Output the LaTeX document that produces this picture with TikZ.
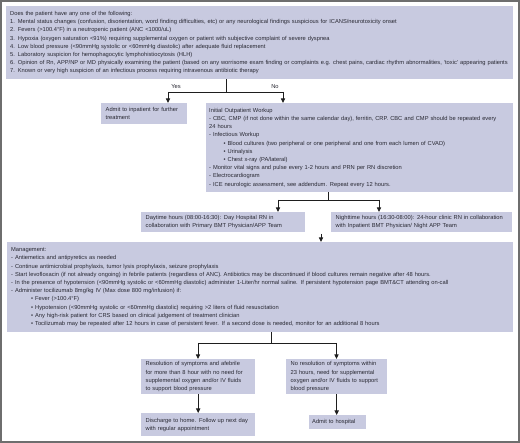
\documentclass[tikz,border=0pt]{standalone}
\usepackage{fontspec}
\setmainfont{Liberation Sans}
\usetikzlibrary{arrows.meta,calc}
\definecolor{boxc}{RGB}{200,202,224}
\definecolor{txtc}{RGB}{40,40,50}
\definecolor{linec}{RGB}{30,30,30}
\definecolor{framec}{RGB}{110,110,110}
\newcommand\ditem{\par\hangindent=4pt\hangafter=1 -\ }
\newcommand\bitem[1]{\par\hangindent=#1\hangafter=0 •\ }
\newcommand\nohyph{\hyphenpenalty=10000 \tolerance=9999 \relax}
\begin{document}
\begin{tikzpicture}[x=1pt,y=-1pt,
  box/.style={fill=boxc, draw=none, inner xsep=3pt, inner ysep=1pt, align=left, anchor=north west,
    font=\fontsize{5.75}{8.2}\selectfont, text=txtc, execute at begin node=\nohyph},
  lbl/.style={font=\fontsize{5.75}{7}\selectfont, text=txtc, inner sep=0pt},
  conn/.style={draw=linec, line width=0.9pt},
  arr/.style={conn, -{Triangle[width=4.2pt,length=4.5pt]}}]
\useasboundingbox (0,0) rectangle (520,443);
\draw[framec, line width=1.6pt] (1,1) rectangle (518.8,441.8);

\node[box, inner xsep=4pt, minimum width=507pt, minimum height=73pt, text width=499pt] (q) at (6,6) {%
Does the patient have any one of the following:\par
1. Mental status changes (confusion, disorientation, word finding difficulties, etc) or any neurological findings suspicious for ICANS/neurotoxicity onset\par
2. Fevers (>100.4°F) in a neutropenic patient (ANC <1000/uL)\par
3. Hypoxia (oxygen saturation <91\%) requiring supplemental oxygen or patient with subjective complaint of severe dyspnea\par
4. Low blood pressure (<90mmHg systolic or <60mmHg diastolic) after adequate fluid replacement\par
5. Laboratory suspicion for hemophagocytic lymphohistiocytosis (HLH)\par
6. Opinion of Rn, APP/NP or MD physically examining the patient (based on any worrisome exam finding or complaints e.g. chest pains, cardiac rhythm abnormalities, `toxic' appearing patients\par
7. Known or very high suspicion of an infectious process requiring intravenous antibiotic therapy\par};

\node[box, inner xsep=4.5pt, minimum width=86pt, minimum height=21pt, text width=77pt] (adm) at (101,103) {%
Admit to inpatient for further\\treatment\par};

\node[box, minimum width=307pt, minimum height=89pt, text width=301pt] (wk) at (206,103) {%
Initial Outpatient Workup
\ditem CBC, CMP (if not done within the same calendar day), ferritin, CRP. CBC and CMP should be repeated every\\24 hours
\ditem Infectious Workup
\bitem{14.5pt}Blood cultures (two peripheral or one peripheral and one from each lumen of CVAD)
\bitem{14.5pt}Urinalysis
\bitem{14.5pt}Chest x-ray (PA/lateral)
\ditem Monitor vital signs and pulse every 1-2 hours and PRN per RN discretion
\ditem Electrocardiogram
\ditem ICE neurologic assessment, see addendum. Repeat every 12 hours.\par};

\node[box, inner xsep=4.5pt, minimum width=164pt, minimum height=20pt, text width=155pt] (day) at (141,212) {%
Daytime hours (08:00-16:30): Day Hospital RN in\\collaboration with Primary BMT Physician/APP Team\par};

\node[box, inner xsep=4.5pt, minimum width=181pt, minimum height=20pt, text width=172pt] (night) at (331,212) {%
Nighttime hours (16:30-08:00): 24-hour clinic RN in collaboration\\with Inpatient BMT Physician/ Night APP Team\par};

\node[box, inner xsep=4pt, minimum width=506pt, minimum height=90pt, text width=498pt] (mg) at (7,242) {%
Management:
\ditem Antiemetics and antipyretics as needed
\ditem Continue antimicrobial prophylaxis, tumor lysis prophylaxis, seizure prophylaxis
\ditem Start levofloxacin (if not already ongoing) in febrile patients (regardless of ANC). Antibiotics may be discontinued if blood cultures remain negative after 48 hours.
\ditem In the presence of hypotension (<90mmHg systolic or <60mmHg diastolic) administer 1-Liter/hr normal saline. If persistent hypotension page BMT\&CT attending on-call
\ditem Administer tocilizumab 8mg/kg IV (Max dose 800 mg/infusion) if:
\bitem{20pt}Fever (>100.4°F)
\bitem{20pt}Hypotension (<90mmHg systolic or <60mmHg diastolic) requiring >2 liters of fluid resuscitation
\bitem{20pt}Any high-risk patient for CRS based on clinical judgement of treatment clinician
\bitem{20pt}Tocilizumab may be repeated after 12 hours in case of persistent fever. If a second dose is needed, monitor for an additional 8 hours\par};

\node[box, inner xsep=4.5pt, minimum width=114pt, minimum height=35pt, text width=105pt] (res) at (141,359) {%
Resolution of symptoms and afebrile\\for more than 8 hour with no need for\\supplemental oxygen and/or IV fluids\\to support blood pressure\par};

\node[box, inner xsep=4.5pt, minimum width=101pt, minimum height=35pt, text width=92pt] (nores) at (286,359) {%
No resolution of symptoms within\\23 hours, need for supplemental\\oxygen and/or IV fluids to support\\blood pressure\par};

\node[box, inner xsep=4.5pt, minimum width=114pt, minimum height=23pt, text width=105pt] (dis) at (141,413) {%
Discharge to home. Follow up next day\\with regular appointment\par};

\node[box, minimum width=57pt, minimum height=14pt, text width=51pt] (hosp) at (309,415) {%
Admit to hospital\par};

% connectors: top question
\coordinate (j1) at (226,92);
\coordinate (ya) at (168,92);
\coordinate (na) at (283,92);
\draw[conn] (j1 |- q.south) -- (j1);
\draw[conn] (ya) -- (na);
\draw[arr] (ya) -- (ya |- adm.north);
\draw[arr] (na) -- (na |- wk.north);
\node[lbl] (yes) at (176,86.5) {Yes};
\node[lbl] (no) at (275,86.5) {No};

% workup split
\coordinate (j2) at (328,200);
\coordinate (da) at (278,200);
\coordinate (nt) at (379,200);
\draw[conn] (j2 |- wk.south) -- (j2);
\draw[conn] (da) -- (nt);
\draw[arr] (da) -- (da |- day.north);
\draw[arr] (nt) -- (nt |- night.north);

% into management
\coordinate (ms) at (321,234);
\draw[arr] (ms) -- (ms |- mg.north);

% management split
\coordinate (j3) at (271,343);
\coordinate (ra) at (198,343);
\coordinate (nr) at (336.5,343);
\draw[conn] (j3 |- mg.south) -- (j3);
\draw[conn] (ra) -- (nr);
\draw[arr] (ra) -- (ra |- res.north);
\draw[arr] (nr) -- (nr |- nores.north);

\draw[arr] (res.south) -- (dis.north);
\draw[arr] (nores.south) -- (nores.south |- hosp.north);
\end{tikzpicture}
\end{document}
